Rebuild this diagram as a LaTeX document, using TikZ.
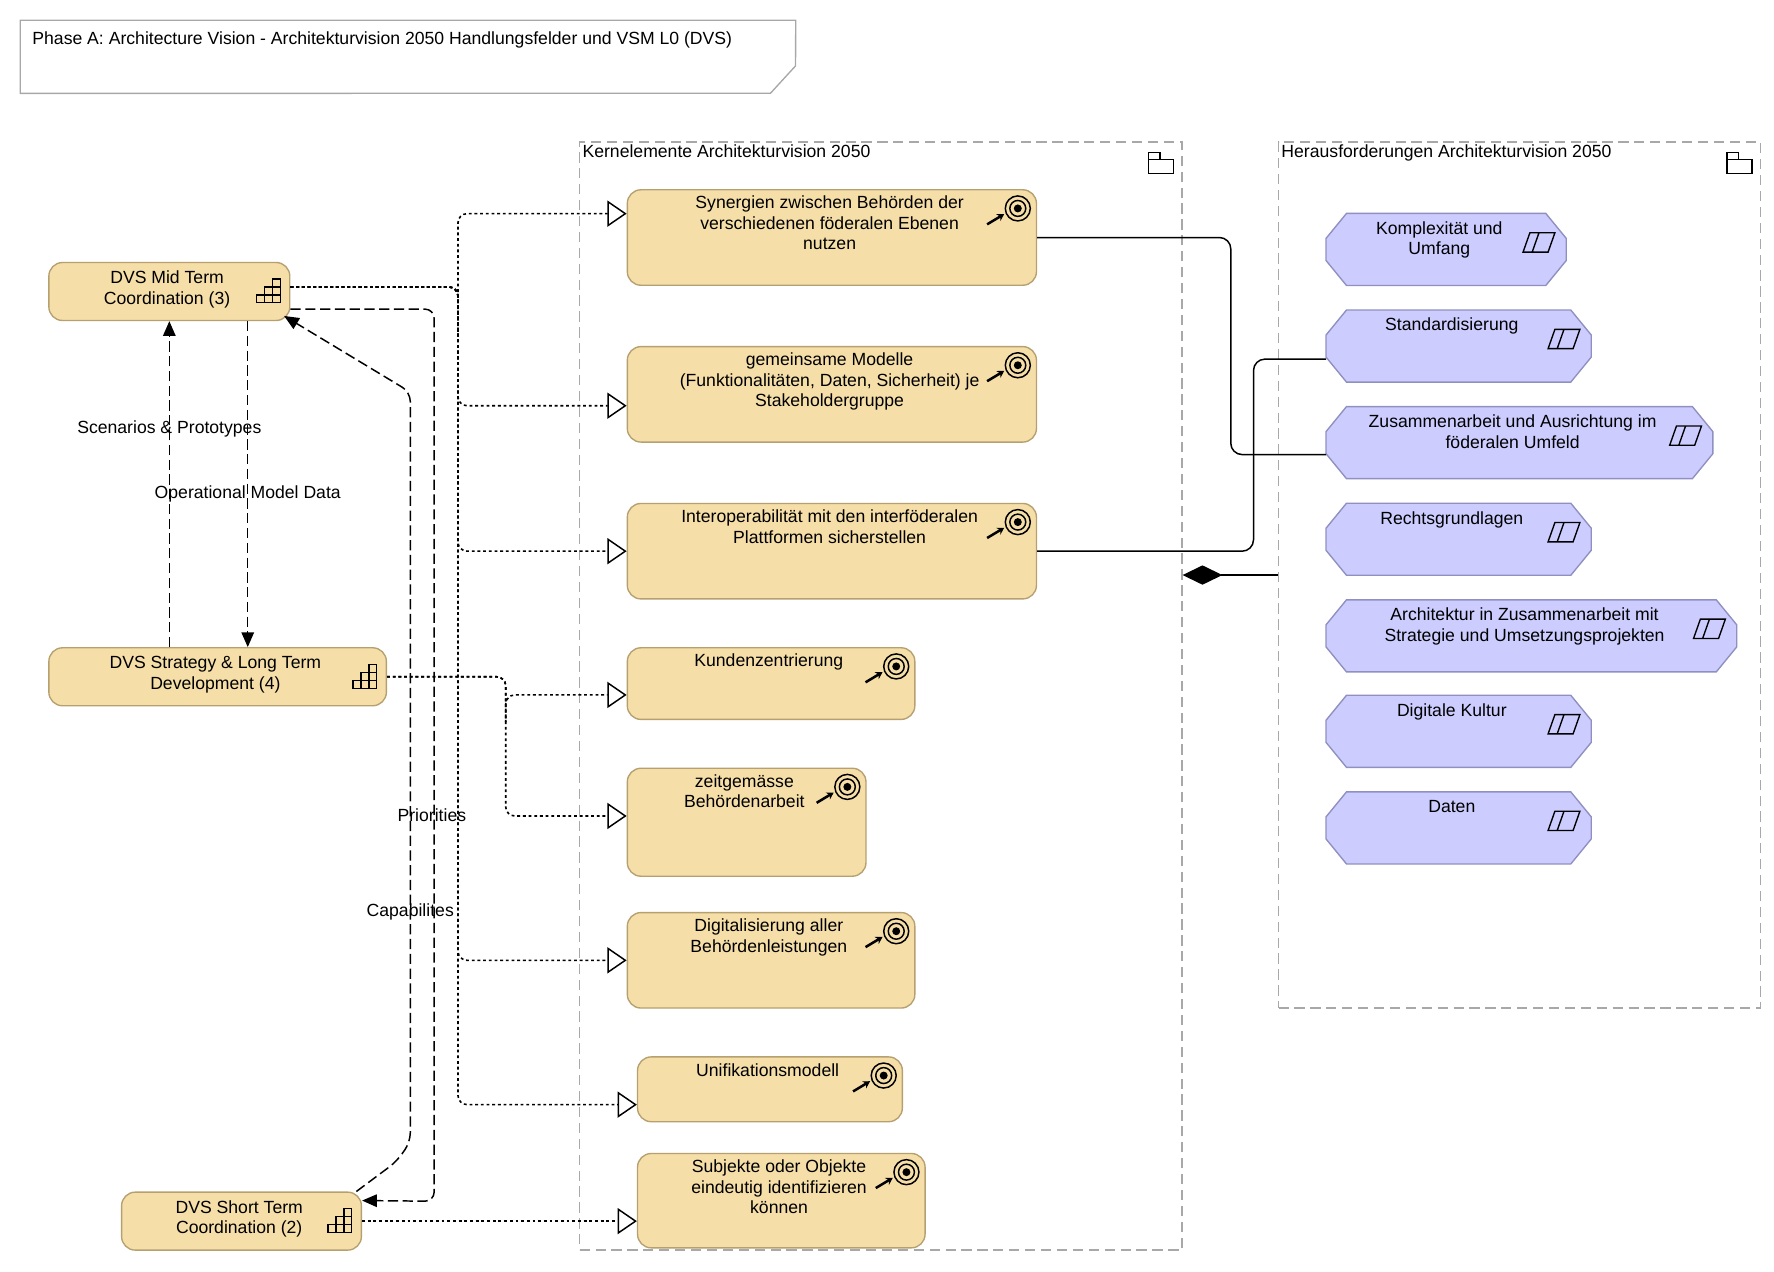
\documentclass[tikz,border=0pt]{standalone}
\usepackage{fontspec}
\setmainfont{Liberation Sans}
\usetikzlibrary{calc,fit,arrows.meta}

\definecolor{goalfill}{RGB}{245,222,168}
\definecolor{goalline}{RGB}{182,160,112}
\definecolor{drvfill}{RGB}{204,204,255}
\definecolor{drvline}{RGB}{143,143,192}
\definecolor{grpline}{RGB}{168,168,168}

\tikzset{
  goal/.style={draw=goalline, fill=goalfill, line width=1.2pt, rounded corners=12pt, inner sep=0pt},
  txt/.style={font=\fontsize{15.5}{18}\selectfont, align=center},
  grp/.style={draw=grpline, dash pattern=on 9pt off 5pt, line width=1.2pt, inner sep=0pt},
  real/.style={dash pattern=on 2.5pt off 2.5pt, line width=1.4pt, rounded corners=8pt,
    -{Triangle[open, length=17pt, width=23pt, fill=white, line width=1.3pt]}},
  flow/.style={dash pattern=on 9pt off 4pt, line width=1.3pt, rounded corners=8pt,
    -{Triangle[length=13pt, width=11pt]}},
  assoc/.style={line width=1.3pt, rounded corners=10pt},
}

\begin{document}
\begin{tikzpicture}[x=1pt, y=-1pt]
  \useasboundingbox (0,0) rectangle (1561,1119);

  % title
  \node[inner sep=0pt, fit={(18,18) (700,82)}] (title) {};
  \draw[grpline, line width=1.2pt] (title.north west) -- (title.north east) -- (700,58)
    -- (678,82) -- (title.south west) -- cycle;
  \node[txt, anchor=west] (titletxt) at (25,35)
    {Phase A: Architecture Vision - Architekturvision 2050 Handlungsfelder und VSM L0 (DVS)};

  % groups
  \node[grp, fit={(510,125) (1040,1100)}, label={[txt, anchor=north west, inner sep=3pt]north west:Kernelemente Architekturvision 2050}] (kern) {};
  \node[grp, fit={(1125,125) (1549,887)}, label={[txt, anchor=north west, inner sep=3pt]north west:Herausforderungen Architekturvision 2050}] (herz) {};
  \foreach \g in {kern, herz} {
    \draw[line width=1.2pt] ($(\g.north east)+(-30,16)$) rectangle ++(22,12)
      ($(\g.north east)+(-30,16)$) -- ++(0,-6) -- ++(10,0) -- ++(0,6);
  }

  % left stages
  \foreach \n/\xa/\ya/\xb/\yb/\t in {
      mid/43/231/255/282/{DVS Mid Term\\Coordination (3)},
      strat/43/570/340/621/{DVS Strategy \& Long Term\\Development (4)},
      short/107/1049/318/1100/{DVS Short Term\\Coordination (2)}} {
    \node[goal, fit={(\xa,\ya) (\xb,\yb)}] (\n) {};
    \node[txt] (\n txt) at ($(\n.center)+(-2,-2)$) {\t};
    \begin{scope}[shift={($(\n.east)+(-30,10)$)}, line width=1.1pt]
      \draw (0,0) rectangle (21,-7) (7,-7) rectangle (21,-14) (14,-14) rectangle (21,-21)
        (7,0) -- (7,-7) (14,0) -- (14,-14);
    \end{scope}
  }

  % goals
  \foreach \n/\xa/\ya/\xb/\yb/\t in {
      g1/552/167/912/251/{Synergien zwischen Behörden der\\verschiedenen föderalen Ebenen\\nutzen},
      g2/552/305/912/389/{gemeinsame Modelle\\(Funktionalitäten, Daten, Sicherheit) je\\Stakeholdergruppe},
      g3/552/443/912/527/{Interoperabilität mit den interföderalen\\Plattformen sicherstellen},
      g4/552/570/805/633/{Kundenzentrierung},
      g5/552/676/762/771/{zeitgemässe\\Behördenarbeit},
      g6/552/803/805/887/{Digitalisierung aller\\Behördenleistungen},
      g7/561/930/794/987/{Unifikationsmodell},
      g8/561/1015/814/1098/{Subjekte oder Objekte\\eindeutig identifizieren\\können}} {
    \node[goal, fit={(\xa,\ya) (\xb,\yb)},
      label={[txt, anchor=north, inner sep=0pt, yshift=-6pt, xshift=-2pt]north:\t}] (\n) {};
    \draw[line width=1.3pt] ($(\n.north east)+(-17,17)$) circle (11) circle (7);
    \fill ($(\n.north east)+(-17,17)$) circle (3.5);
    \draw[line width=2.2pt, -{Stealth[length=6pt, width=7pt]}]
      ($(\n.north east)+(-44,31)$) -- ($(\n.north east)+(-29,22)$);
  }

  % challenges
  \foreach \n/\xb/\ya/\t in {
      c1/1378/188/{Komplexität und\\Umfang},
      c2/1400/273/{Standardisierung},
      c3/1507/358/{Zusammenarbeit und Ausrichtung im\\föderalen Umfeld},
      c4/1400/443/{Rechtsgrundlagen},
      c5/1528/528/{Architektur in Zusammenarbeit mit\\Strategie und Umsetzungsprojekten},
      c6/1400/612/{Digitale Kultur},
      c7/1400/697/{Daten}} {
    \node[inner sep=0pt, fit={(1167,\ya) (\xb,\ya+63)}] (\n) {};
    \draw[drvline, fill=drvfill, line width=1.2pt]
      ($(\n.north west)+(18,0)$) -- ($(\n.north east)+(-18,0)$) -- ($(\n.north east)+(0,22)$)
      -- ($(\n.south east)+(0,-22)$) -- ($(\n.south east)+(-18,0)$) -- ($(\n.south west)+(18,0)$)
      -- ($(\n.south west)+(0,-22)$) -- ($(\n.north west)+(0,22)$) -- cycle;
    \node[txt, anchor=north, inner sep=0pt] (\n txt) at ($(\n.north)+(-6,7)$) {\t};
    \draw[line width=1.2pt] ($(\n.north east)+(-38,34)$) -- ++(6,-17) -- ++(22,0) -- ++(-6,17) -- cycle
      ($(\n.north east)+(-30,34)$) -- ++(6,-17);
  }

  % realisations
  \draw[real] ([yshift=4]mid.east) -| (403,300) |- ([yshift=21]g1.west);
  \draw[real] ([yshift=4]mid.east) -| (403,300) |- ([yshift=-10]g2.west);
  \draw[real] ([yshift=4]mid.east) -| (403,300) |- (g3.west);
  \draw[real] ([yshift=4]mid.east) -| (403,300) |- (g6.west);
  \draw[real] ([yshift=4]mid.east) -| (403,300) |- ([yshift=-13.5]g7.west);
  \draw[real] (strat.east) -| (445,640) |- ([yshift=-10]g4.west);
  \draw[real] (strat.east) -| (445,640) |- ([yshift=5.5]g5.west);
  \draw[real] (short.east) -- (short.east -| g8.west);

  % flows
  \draw[flow] ([xshift=-42.5]strat.north) -- node[txt, pos=0.67] (lscen) {Scenarios \& Prototypes} (mid.south);
  \draw[flow] ([xshift=69]mid.south) -- node[txt, pos=0.53] (lopm) {Operational Model Data} ([xshift=26.5]strat.north);
  \draw[flow] ([yshift=-15.5]mid.east) -| (382,1057) -- ([yshift=-8]short.north east);
  \draw[flow] ([xshift=-5]short.north east) -- (349,1022) -- (361,1005) -- (361,345)
    -- (250,278);
  \node[txt] (lprio) at (380,717) {Priorities};
  \node[txt] (lcap) at (361,802) {Capabilites};

  % associations
  \draw[assoc] (g1.east) -| (1083,400) -- ([yshift=-10.5]c3.west);
  \draw[assoc] (g3.east) -| (1103,316) -- ([yshift=-11.5]c2.west);
  \draw[line width=1.3pt, {Diamond[length=35pt, width=17pt]}-] (kern.east |- herz.west) -- (herz.west);
\end{tikzpicture}
\end{document}
